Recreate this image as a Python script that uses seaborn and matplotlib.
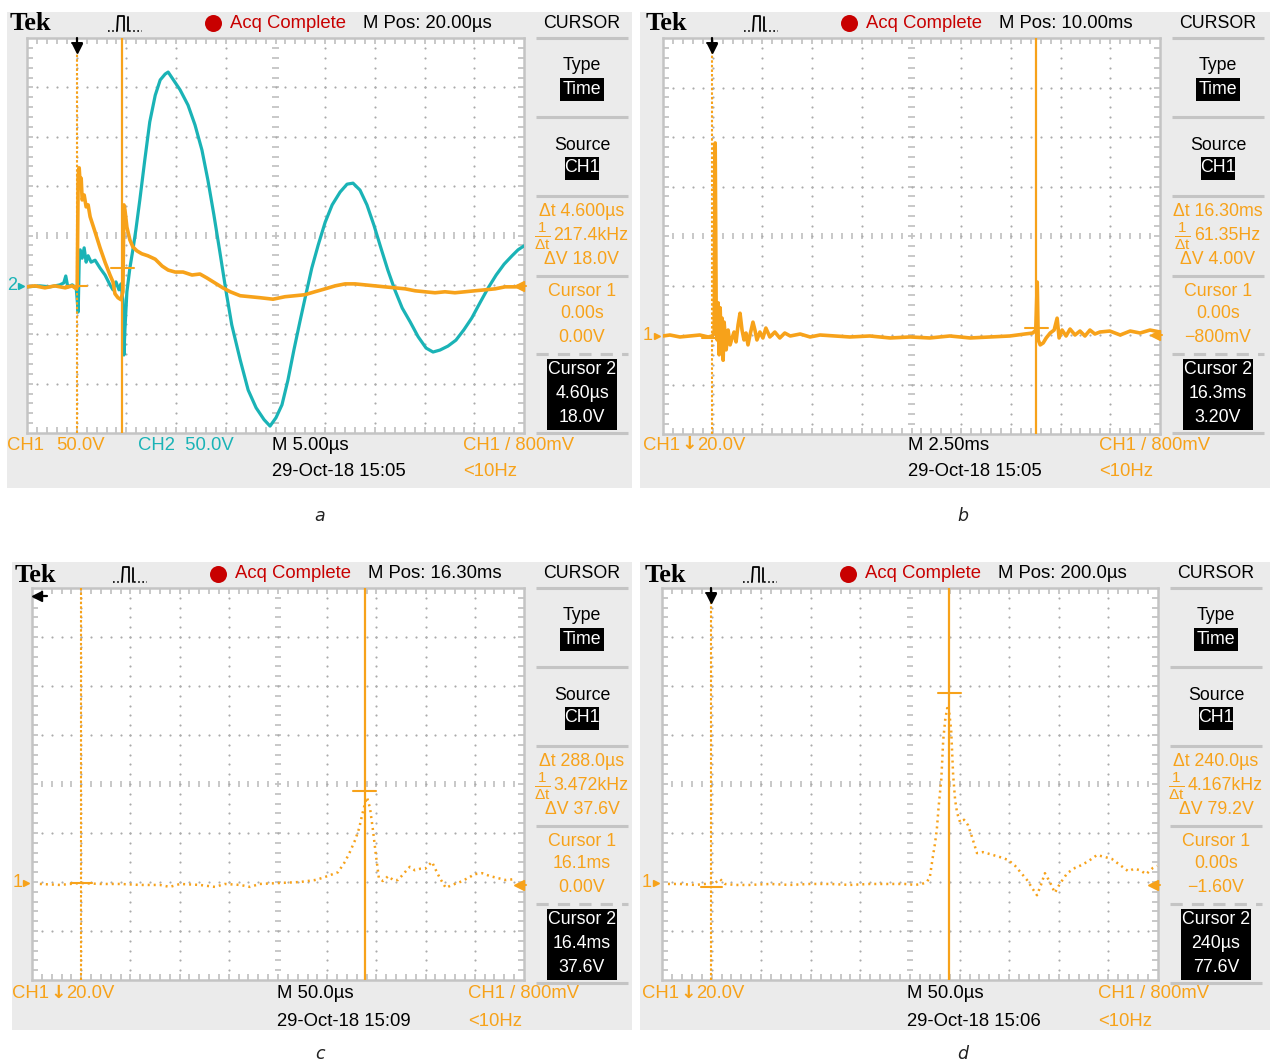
import numpy as np
import matplotlib
matplotlib.use("Agg")
import matplotlib.pyplot as plt
import seaborn as sns
from matplotlib import font_manager as fm
from matplotlib.patches import Rectangle
from matplotlib.collections import LineCollection

sns.set_theme(style="white")
_names = {f.name for f in fm.fontManager.ttflist}
NARROW_OK = "Liberation Sans Narrow" in _names
SANS = "Liberation Sans Narrow" if NARROW_OK else ("Liberation Sans" if "Liberation Sans" in _names else "DejaVu Sans")
plt.rcParams['font.family'] = [SANS, 'DejaVu Sans']
plt.rcParams['mathtext.fontset'] = 'custom'
plt.rcParams['mathtext.rm'] = SANS
plt.rcParams['mathtext.it'] = SANS
if NARROW_OK:
    FS_HEAD, FS_MENU, FS_BOT = 15.5, 14.5, 15.5
else:
    FS_HEAD, FS_MENU, FS_BOT = 13.3, 12.8, 13.3

# ---------------- data (screen divisions: x 0..10, y -4..4) ----------------
a_ch1_x = [0, 0.16, 0.36, 0.56, 0.77, 0.91, 0.99, 1.01, 1.03, 1.05, 1.07, 1.09, 1.11, 1.15, 1.19, 1.23, 1.27,
           1.37, 1.47, 1.57, 1.67, 1.73, 1.77, 1.83, 1.89, 1.93, 1.95, 1.97, 2.01, 2.07, 2.13, 2.21, 2.31, 2.43, 2.58,
           2.72, 2.84, 2.98, 3.14, 3.32, 3.48, 3.62, 3.78, 3.94, 4.09, 4.29, 4.49, 4.69, 4.95, 5.19, 5.39, 5.59, 5.79,
           6.00, 6.20, 6.40, 6.60, 6.80, 7.00, 7.20, 7.40, 7.61, 7.81, 8.01, 8.21, 8.41, 8.61, 8.81, 9.01, 9.22, 9.42,
           9.62, 9.82, 10.0]
a_ch1_y = [-1.04, -1.02, -1.06, -1.02, -1.06, -1.02, -1.08, -1.04, 1.22, 1.37, 1.02, 1.16, 0.72, 0.82, 0.58, 0.62, 0.38,
           0.07, -0.25, -0.54, -0.80, -0.94, -1.18, -1.26, -1.30, -1.14, 0.62, 0.52, 0.17, -0.09, -0.23, -0.31, -0.37, -0.41, -0.48,
           -0.62, -0.70, -0.74, -0.74, -0.80, -0.78, -0.86, -0.96, -1.06, -1.14, -1.22, -1.24, -1.26, -1.29, -1.24, -1.22, -1.20, -1.14,
           -1.08, -1.02, -0.98, -0.98, -1.00, -1.02, -1.04, -1.06, -1.08, -1.12, -1.14, -1.16, -1.14, -1.16, -1.14, -1.12, -1.10, -1.08,
           -1.04, -1.04, -1.02]
a_ch2_x = [0, 0.26, 0.46, 0.66, 0.74, 0.78, 0.82, 0.91, 0.99, 1.03,
           1.05, 1.07, 1.11, 1.15, 1.19, 1.23, 1.29, 1.37, 1.47, 1.57,
           1.67, 1.73, 1.79, 1.85, 1.89, 1.93, 1.95, 1.97, 2.01, 2.07,
           2.13, 2.19, 2.27, 2.37, 2.47, 2.58, 2.68, 2.78, 2.84, 2.92,
           3.08, 3.24, 3.38, 3.52, 3.64, 3.76, 3.88, 4.00, 4.12, 4.29,
           4.45, 4.61, 4.77, 4.89, 5.01, 5.13, 5.25, 5.37, 5.49, 5.61,
           5.73, 5.86, 6.00, 6.14, 6.30, 6.44, 6.56, 6.70, 6.84, 6.98,
           7.12, 7.26, 7.40, 7.55, 7.71, 7.87, 8.03, 8.17, 8.31, 8.47,
           8.63, 8.79, 8.95, 9.11, 9.28, 9.44, 9.60, 9.76, 9.88, 10.0]
a_ch2_y = [-1.04, -1.02, -1.04, -1.00, -0.96, -0.82, -1.04, -1.00, -1.06, -1.55,
           -0.54, -0.29, -0.46, -0.25, -0.54, -0.41, -0.54, -0.50, -0.66, -0.80,
           -1.00, -1.10, -0.94, -1.10, -0.98, -1.31, -2.42, -1.91, -1.14, -0.66,
           -0.29, 0.11, 0.72, 1.53, 2.30, 2.84, 3.15, 3.27, 3.31, 3.19,
           2.95, 2.64, 2.24, 1.73, 1.12, 0.42, -0.33, -1.10, -1.81, -2.52,
           -3.13, -3.49, -3.73, -3.86, -3.69, -3.43, -2.93, -2.32, -1.75, -1.20,
           -0.66, -0.19, 0.27, 0.62, 0.88, 1.04, 1.06, 0.92, 0.62, 0.21,
           -0.25, -0.70, -1.10, -1.47, -1.75, -2.05, -2.28, -2.36, -2.32, -2.24,
           -2.12, -1.91, -1.67, -1.37, -1.06, -0.80, -0.58, -0.41, -0.29, -0.21]
b_ch1_x = [0, 0.14, 0.34, 0.54, 0.74, 0.91, 0.99,
           1.03, 1.05, 1.07, 1.09, 1.11, 1.13, 1.15, 1.17, 1.19, 1.21, 1.23,
           1.27, 1.31, 1.35, 1.39, 1.43, 1.47, 1.51, 1.55, 1.59, 1.63, 1.67, 1.71, 1.75,
           1.81, 1.85, 1.89, 1.95, 2.01, 2.07, 2.15, 2.25, 2.35, 2.45, 2.56,
           2.76, 2.96, 3.16, 3.46, 3.76, 4.16, 4.57, 4.97, 5.37, 5.77, 6.18, 6.58, 6.98,
           7.28, 7.44, 7.50, 7.53, 7.55, 7.59, 7.65, 7.71, 7.79, 7.87, 7.93, 7.97, 8.03, 8.11, 8.19, 8.29,
           8.39, 8.49, 8.59, 8.69, 8.79,
           8.99, 9.20, 9.40, 9.60, 9.80, 10.0]
b_ch1_y = [-2.02, -2.00, -2.04, -2.02, -2.00, -2.04, -2.02,
           -1.96, 1.88, -1.49, -2.10, -1.35, -2.40, -1.45, -2.20, -1.66, -2.51, -1.74,
           -2.30, -1.90, -2.20, -2.06, -1.94, -2.14, -1.80, -1.56, -1.90, -2.10, -1.96, -2.20, -2.00,
           -1.74, -1.90, -2.10, -1.94, -2.06, -1.86, -2.04, -1.94, -2.06, -1.96, -2.02,
           -1.98, -2.04, -2.00, -2.02, -2.04, -2.02, -2.06, -2.04, -2.06, -2.02, -2.06, -2.04, -2.02,
           -1.98, -1.96, -1.90, -0.93, -2.10, -2.20, -2.16, -2.06, -1.96, -1.90, -1.66, -2.06, -1.90, -2.02, -1.88, -2.00,
           -1.92, -2.02, -1.90, -1.98, -1.94,
           -1.92, -2.00, -1.92, -1.96, -1.90, -1.94]
c_ch1_x = [0.16, 0.57, 0.98, 1.38, 1.79, 2.20, 2.60, 2.80, 3.01, 3.41,
           3.72, 3.92, 4.23, 4.43, 4.63, 5.04, 5.45, 5.75, 5.89, 6.06,
           6.22, 6.36, 6.46, 6.57, 6.65, 6.71, 6.77, 6.81, 6.87, 6.93,
           6.99, 7.05, 7.13, 7.24, 7.34, 7.44, 7.58, 7.68, 7.78, 7.89,
           7.99, 8.13, 8.21, 8.29, 8.41, 8.54, 8.70, 8.86, 9.00, 9.15,
           9.31, 9.47, 9.63, 9.82]
c_ch1_y = [-2.04, -2.06, -2.02, -2.04, -2.04, -2.06, -2.06, -2.10, -2.04, -2.06,
           -2.10, -2.04, -2.06, -2.10, -2.04, -2.02, -2.00, -1.96, -1.92, -1.86,
           -1.80, -1.59, -1.39, -1.14, -0.90, -0.63, -0.39, -0.27, -0.49, -0.94,
           -1.45, -1.92, -1.98, -1.88, -1.96, -1.96, -1.80, -1.69, -1.76, -1.73,
           -1.73, -1.59, -1.76, -1.92, -2.12, -2.06, -2.00, -1.92, -1.84, -1.82,
           -1.88, -1.92, -1.96, -1.94]
d_ch1_x = [0.12, 0.36, 0.67, 0.87, 1.07, 1.17, 1.27, 1.47, 1.77, 2.18,
           2.58, 2.98, 3.39, 3.79, 4.19, 4.60, 4.90, 5.10, 5.24, 5.34,
           5.40, 5.46, 5.50, 5.54, 5.58, 5.63, 5.67, 5.71, 5.75, 5.79,
           5.83, 5.87, 5.91, 5.95, 6.01, 6.09, 6.17, 6.25, 6.35, 6.47,
           6.61, 6.81, 6.98, 7.12, 7.36, 7.46, 7.56, 7.64, 7.72, 7.82,
           7.92, 8.02, 8.17, 8.33, 8.47, 8.63, 8.77, 8.93, 9.07, 9.23,
           9.40, 9.52, 9.64, 9.76, 9.90, 9.98]
d_ch1_y = [-2.04, -2.04, -2.06, -2.04, -2.02, -1.94, -2.04, -2.06, -2.06, -2.04,
           -2.06, -2.04, -2.04, -2.06, -2.04, -2.04, -2.04, -2.06, -2.04, -2.00,
           -1.90, -1.49, -1.24, -0.94, -0.43, 0.08, 0.90, 1.31, 1.55, 1.47,
           1.10, 0.18, -0.33, -0.59, -0.78, -0.73, -0.84, -1.08, -1.41, -1.39,
           -1.43, -1.49, -1.55, -1.67, -1.96, -2.12, -2.27, -2.06, -1.82, -2.00,
           -2.22, -2.04, -1.82, -1.71, -1.65, -1.55, -1.45, -1.49, -1.53, -1.65,
           -1.78, -1.73, -1.76, -1.84, -1.71, -1.67]

cursor1_x = [1.00, 0.99, 1.00, 0.99]
cursor2_x = [1.92, 7.51, 6.76, 5.79]
cursor1_y = [-1.02, -2.06, -2.02, -2.10]
cursor2_y = [-0.66, -1.86, -0.14, 1.86]
ground_y = [-1.02, -2.02, -2.02, -2.02]
trig_level_y = [-1.02, -2.00, -2.06, -2.06]

panel_letters = ["a", "b", "c", "d"]
mpos_text = ["20.00µs", "10.00ms", "16.30ms", "200.0µs"]
timebase_text = ["5.00µs", "2.50ms", "50.0µs", "50.0µs"]
date_text = ["29-Oct-18 15:05", "29-Oct-18 15:05", "29-Oct-18 15:09", "29-Oct-18 15:06"]
ch1_scale_text = ["50.0V", "20.0V", "20.0V", "20.0V"]
delta_t_text = ["4.600µs", "16.30ms", "288.0µs", "240.0µs"]
inv_dt_text = ["217.4kHz", "61.35Hz", "3.472kHz", "4.167kHz"]
delta_v_text = ["18.0V", "4.00V", "37.6V", "79.2V"]
c1_t_text = ["0.00s", "0.00s", "16.1ms", "0.00s"]
c1_v_text = ["0.00V", "\u2212800mV", "0.00V", "\u22121.60V"]
c2_t_text = ["4.60µs", "16.3ms", "16.4ms", "240µs"]
c2_v_text = ["18.0V", "3.20V", "37.6V", "77.6V"]

traces = [
    [("ch2", a_ch2_x, a_ch2_y), ("ch1", a_ch1_x, a_ch1_y)],
    [("ch1", b_ch1_x, b_ch1_y)],
    [("ch1", c_ch1_x, c_ch1_y)],
    [("ch1", d_ch1_x, d_ch1_y)],
]
dotted_trace = [False, False, True, True]

# ---------------- styling ----------------
ORANGE = "#F7A21A"
TEAL = "#1AB3B6"
RED = "#C80000"
BG = "#EBEBEB"
EDGE = "#C4C4C4"
DOT = "#ABABAB"
W, H = 1270, 1064

PANELS = [
    dict(gray=(7, 12, 632, 488), grat=(27, 38, 524, 433), hy=23, my=0, by=445),
    dict(gray=(640, 12, 1270, 488), grat=(663, 38, 1160, 434), hy=23, my=0, by=445),
    dict(gray=(12, 562, 632, 1030), grat=(32, 588, 524, 980), hy=574, my=550, by=994),
    dict(gray=(640, 562, 1270, 1030), grat=(662, 588, 1158, 980), hy=574, my=550, by=994),
]
LETTER_POS = [(320, 516), (963, 516), (320, 1054), (963, 1054)]

fig = plt.figure(figsize=(W / 100, H / 100), dpi=100)
fig.patch.set_facecolor("white")
renderer = fig.canvas.get_renderer()

ov = fig.add_axes([0, 0, 1, 1])
ov.set_xlim(0, W)
ov.set_ylim(H, 0)
ov.axis("off")


def txt(x, y, s, color="black", size=FS_HEAD, ha="left", **kw):
    return ov.text(x, y, s, color=color, fontsize=size, ha=ha, va="center", **kw)


def width_px(t):
    return t.get_window_extent(renderer=renderer).width


for i, P in enumerate(PANELS):
    gl, gt, gr, gb = P["gray"]
    ov.add_patch(Rectangle((gl, gt), gr - gl, gb - gt, facecolor=BG, edgecolor="none", zorder=0))
    l, t, r, b = P["grat"]
    hy, my, by = P["hy"], P["my"], P["by"]
    mx = r + 58
    # header
    ov.text(l - 17, hy + 1, "Tek", fontsize=19, fontweight="bold", va="center", ha="left",
            family=["Liberation Serif", "DejaVu Serif"], color="black")
    ov.plot([l + 81, l + 90], [hy + 8, hy + 8], color="black", lw=1.2, ls=(0, (1, 1.5)))
    ov.plot([l + 90, l + 91, l + 97, l + 97], [hy + 8, hy - 7, hy - 7, hy + 8], color="black", lw=1.3)
    ov.plot([l + 101, l + 101], [hy - 6, hy + 8], color="black", lw=1.3)
    ov.plot([l + 102, l + 115], [hy + 8, hy + 8], color="black", lw=1.2, ls=(0, (1, 1.5)))
    ov.scatter([l + 186], [hy], s=150, color=RED, linewidths=0, zorder=3)
    txt(l + 203, hy, "Acq Complete", color=RED)
    txt(l + 336, hy, "M Pos: " + mpos_text[i])
    txt(mx, hy, "CURSOR", ha="center", size=FS_MENU)
    # menu separators
    for yy, dash in [(38, False), (117, False), (196, False), (276, False), (354, True), (433, False)]:
        ov.plot([mx - 46, mx + 46], [my + yy, my + yy], color=EDGE, lw=2.2,
                ls=(0, (4, 3)) if dash else "-", solid_capstyle="butt")
    ov.add_patch(Rectangle((mx - 22, my + 78), 44, 23, facecolor="black", edgecolor="none"))
    ov.add_patch(Rectangle((mx - 17, my + 157), 34, 23, facecolor="black", edgecolor="none"))
    ov.add_patch(Rectangle((mx - 35, my + 359), 70, 71, facecolor="black", edgecolor="none"))
    txt(mx, my + 66, "Type", ha="center", size=FS_MENU)
    txt(mx, my + 89, "Time", ha="center", size=FS_MENU, color="white")
    txt(mx, my + 145, "Source", ha="center", size=FS_MENU)
    txt(mx, my + 168, "CH1", ha="center", size=FS_MENU, color="white")
    txt(mx, my + 212, "\u0394t " + delta_t_text[i], ha="center", size=FS_MENU, color=ORANGE)
    # 1/Δt row: fraction glyph followed by the value, centred as a group
    val = txt(mx + 9, my + 236, inv_dt_text[i], ha="center", size=FS_MENU, color=ORANGE)
    vw = width_px(val)
    txt(mx + 9 - vw / 2 - 3, my + 236, r"$\frac{1}{\Delta t}$", ha="right", size=FS_MENU + 3,
        color=ORANGE)
    txt(mx, my + 259, "\u0394V " + delta_v_text[i], ha="center", size=FS_MENU, color=ORANGE)
    txt(mx, my + 291, "Cursor 1", ha="center", size=FS_MENU, color=ORANGE)
    txt(mx, my + 314, c1_t_text[i], ha="center", size=FS_MENU, color=ORANGE)
    txt(mx, my + 338, c1_v_text[i], ha="center", size=FS_MENU, color=ORANGE)
    txt(mx, my + 370, "Cursor 2", ha="center", size=FS_MENU, color="white")
    txt(mx, my + 394, c2_t_text[i], ha="center", size=FS_MENU, color="white")
    txt(mx, my + 418, c2_v_text[i], ha="center", size=FS_MENU, color="white")
    # bottom readouts
    ch = txt(l - 20, by, "CH1", color=ORANGE, size=FS_BOT)
    xe = l - 20 + width_px(ch)
    if i == 0:
        txt(xe + 12, by, ch1_scale_text[i], color=ORANGE, size=FS_BOT)
        txt(l + 111, by, "CH2  50.0V", color=TEAL, size=FS_BOT)
    else:
        ar = txt(xe + 1, by - 1, "\u2193", color=ORANGE, size=FS_BOT, fontweight="bold",
                 family=["DejaVu Sans"])
        txt(xe + 2 + width_px(ar), by, ch1_scale_text[i], color=ORANGE, size=FS_BOT)
    txt(l + 245, by, "M " + timebase_text[i], size=FS_BOT)
    txt(l + 245, by + 27, date_text[i], size=FS_BOT)
    txt(l + 436, by, "CH1 / 800mV", color=ORANGE, size=FS_BOT)
    txt(l + 436, by + 27, "<10Hz", color=ORANGE, size=FS_BOT)
    lx, ly = LETTER_POS[i]
    ov.text(lx, ly, panel_letters[i], fontsize=12.5, style="italic", ha="center", va="center",
            family=["DejaVu Sans"], color="#222222")


def draw_graticule(ax):
    ax.set_xlim(0, 10)
    ax.set_ylim(-4, 4)
    ax.set_facecolor("white")
    ax.set_xticks([])
    ax.set_yticks([])
    for s in ax.spines.values():
        s.set_color(EDGE)
        s.set_linewidth(1.8)
    fx = np.arange(1, 50) * 0.2
    fy = np.arange(-19, 20) * 0.2
    segs = []
    for x in fx:
        segs += [[(x, 4), (x, 3.88)], [(x, -4), (x, -3.88)], [(x, 0.065), (x, -0.065)]]
    for y in fy:
        segs += [[(0, y), (0.12, y)], [(10, y), (9.88, y)], [(4.935, y), (5.065, y)]]
    ax.add_collection(LineCollection(segs, colors=EDGE, linewidths=1.3, zorder=1))
    gx, gy = [], []
    for k in [1, 2, 3, 4, 6, 7, 8, 9]:
        gx += [k] * len(fy)
        gy += list(fy)
    for k in [-3, -2, -1, 1, 2, 3]:
        gx += list(fx)
        gy += [k] * len(fx)
    ax.scatter(gx, gy, s=2.4, color=DOT, linewidths=0, zorder=1)


for i, P in enumerate(PANELS):
    l, t, r, b = P["grat"]
    ax = fig.add_axes([l / W, 1 - b / H, (r - l) / W, (b - t) / H])
    draw_graticule(ax)
    for name, xs, ys in traces[i]:
        col = TEAL if name == "ch2" else ORANGE
        if dotted_trace[i]:
            sns.lineplot(x=xs, y=ys, ax=ax, color=col, sort=False, estimator=None,
                         linewidth=1.8, linestyle=(0, (0.8, 1.6)), zorder=3)
        else:
            sns.lineplot(x=xs, y=ys, ax=ax, color=col, sort=False, estimator=None,
                         linewidth=2.3 if name == "ch2" else 2.6, zorder=3)
    c1x, c2x = cursor1_x[i], cursor2_x[i]
    ax.axvline(c1x, color=ORANGE, lw=1.5, ls=(0, (1.2, 1.0)), zorder=4)
    ax.axvline(c2x, color=ORANGE, lw=1.6, zorder=4)
    ax.plot([c1x - 0.21, c1x + 0.21], [cursor1_y[i]] * 2, color=ORANGE, lw=1.5, zorder=4)
    ax.plot([c2x - 0.23, c2x + 0.23], [cursor2_y[i]] * 2, color=ORANGE, lw=1.5, zorder=4)
    # trigger position marker
    if i == 2:
        ax.plot([0.08, 0.3], [3.84, 3.84], color="black", lw=1.6, clip_on=False, zorder=5)
        ax.plot([0.1], [3.84], marker="<", ms=7, color="black", clip_on=False, zorder=5)
        ax.plot([0.2, 0.2], [3.76, 3.92], color="black", lw=1.4, clip_on=False, zorder=5)
    else:
        ax.plot([c1x, c1x], [4.0, 3.78], color="black", lw=1.6, clip_on=False, zorder=5)
        ax.plot([c1x], [3.8], marker="v", ms=7, color="black", clip_on=False, zorder=5)
        ax.plot([c1x - 0.1, c1x + 0.1], [3.9, 3.9], color="black", lw=1.4, clip_on=False, zorder=5)
    # ground reference marker
    gcol = TEAL if i == 0 else ORANGE
    ax.text(-0.3, ground_y[i], "2" if i == 0 else "1", color=gcol, fontsize=13,
            ha="center", va="center", clip_on=False)
    ax.plot([-0.12], [ground_y[i]], marker=">", ms=5, color=gcol, clip_on=False)
    # trigger level marker
    ax.plot([9.88, 10.04], [trig_level_y[i]] * 2, color=ORANGE, lw=1.5, clip_on=False, zorder=5)
    ax.plot([9.9], [trig_level_y[i]], marker="<", ms=7, color=ORANGE, clip_on=False, zorder=5)
    ax.set_xlabel("")
    ax.set_ylabel("")

fig.savefig("out.png", dpi=100, facecolor="white")
